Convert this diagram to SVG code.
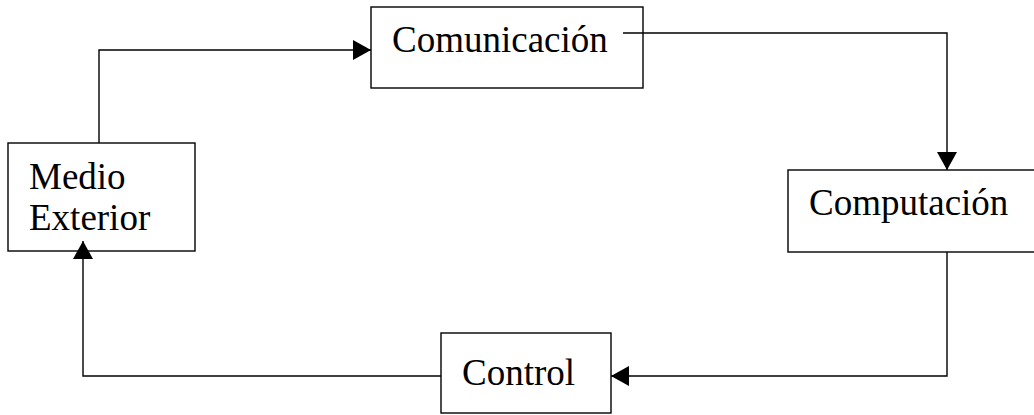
<svg xmlns="http://www.w3.org/2000/svg" width="1034" height="415" viewBox="0 0 1034 415">
<defs>
<style>
.box{fill:#fff;stroke:#000;stroke-width:1.4}
.lbl{font-family:"Liberation Serif","Times New Roman",serif;font-size:37px;fill:#000}
.con{fill:none;stroke:#000;stroke-width:1.4}
</style>
<marker id="arr" markerUnits="userSpaceOnUse" markerWidth="18" markerHeight="20" refX="18" refY="10" orient="auto" viewBox="0 0 18 20">
<path d="M0,0 L18,10 L0,20 z" fill="#000"/>
</marker>
</defs>
<rect width="1034" height="415" fill="#fff"/>
<g id="node-comunicacion">
<rect class="box" x="371" y="7" width="272" height="81"/>
<text class="lbl" x="392" y="52">Comunicación</text>
</g>
<g id="node-medio">
<rect class="box" x="8" y="143" width="187" height="108"/>
<text class="lbl" x="29" y="189">Medio</text>
<text class="lbl" x="29" y="230">Exterior</text>
</g>
<g id="node-computacion">
<rect class="box" x="788" y="170" width="260" height="82"/>
<text class="lbl" x="809" y="215">Computación</text>
</g>
<g id="node-control">
<rect class="box" x="441" y="333" width="170" height="80"/>
<text class="lbl" x="462" y="385">Control</text>
</g>
<g id="connectors">
<path class="con" d="M99,143 V50 H371" marker-end="url(#arr)"/>
<path class="con" d="M623,33 H947 V170" marker-end="url(#arr)"/>
<path class="con" d="M947,252 V376 H611" marker-end="url(#arr)"/>
<path class="con" d="M441,376 H83 V241" marker-end="url(#arr)"/>
</g>
</svg>
